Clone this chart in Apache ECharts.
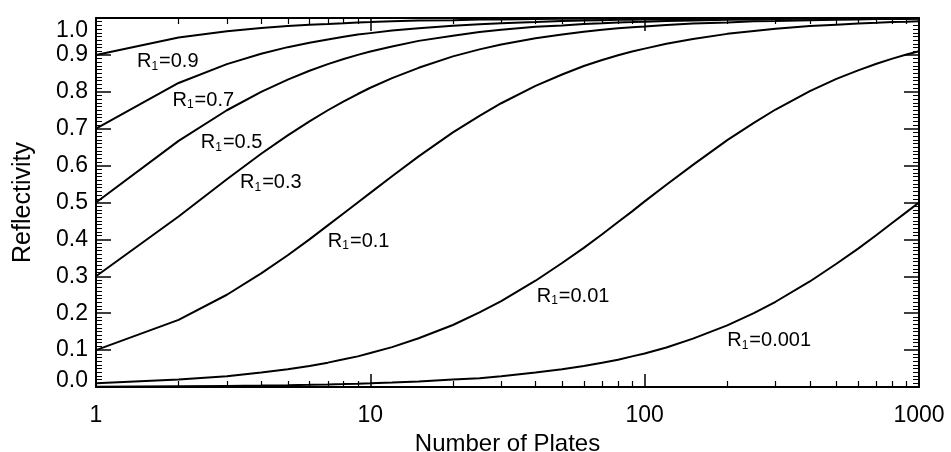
<!DOCTYPE html>
<html>
<head>
<meta charset="utf-8">
<script src="https://cdn.jsdelivr.net/npm/echarts@6/dist/echarts.min.js"></script>
<style>
html,body{margin:0;padding:0;background:#fff;}
#chart{width:951px;height:452px;}
</style>
</head>
<body>
<div id="chart"></div>
<script>
// Number of plates (x samples)
const plates = [1,2,3,4,5,6,7,8,9,10,12,15,20,25,30,40,50,60,70,80,90,100,120,150,200,250,300,400,500,600,700,800,900,1000];
// Reflectivity
const r090 = [0.900,0.947,0.964,0.973,0.978,0.982,0.984,0.986,0.988,0.989,0.991,0.993,0.994,0.996,0.996,0.997,0.998,0.998,0.998,0.999,0.999,0.999,0.999,0.999,1.000,1.000,1.000,1.000,1.000,1.000,1.000,1.000,1.000,1.000];
const r070 = [0.700,0.824,0.875,0.903,0.921,0.933,0.942,0.949,0.955,0.959,0.966,0.972,0.979,0.983,0.986,0.989,0.992,0.993,0.994,0.995,0.995,0.996,0.996,0.997,0.998,0.998,0.999,0.999,0.999,0.999,1.000,1.000,1.000,1.000];
const r050 = [0.500,0.667,0.750,0.800,0.833,0.857,0.875,0.889,0.900,0.909,0.923,0.938,0.952,0.962,0.968,0.976,0.980,0.984,0.986,0.988,0.989,0.990,0.992,0.993,0.995,0.996,0.997,0.998,0.998,0.998,0.999,0.999,0.999,0.999];
const r030 = [0.300,0.462,0.563,0.632,0.682,0.720,0.750,0.774,0.794,0.811,0.837,0.865,0.896,0.915,0.928,0.945,0.955,0.963,0.968,0.972,0.975,0.977,0.981,0.985,0.988,0.991,0.992,0.994,0.995,0.996,0.997,0.997,0.997,0.998];
const r010 = [0.100,0.182,0.250,0.308,0.357,0.400,0.438,0.471,0.500,0.526,0.571,0.625,0.690,0.735,0.769,0.816,0.847,0.870,0.886,0.899,0.909,0.917,0.930,0.943,0.957,0.965,0.971,0.978,0.982,0.985,0.987,0.989,0.990,0.991];
const r001 = [0.010,0.020,0.029,0.039,0.048,0.057,0.066,0.075,0.083,0.092,0.108,0.132,0.168,0.202,0.233,0.288,0.336,0.377,0.414,0.447,0.476,0.503,0.548,0.602,0.669,0.716,0.752,0.802,0.835,0.858,0.876,0.890,0.901,0.910];
const r0001 = [0.001,0.002,0.003,0.004,0.005,0.006,0.007,0.008,0.009,0.010,0.012,0.015,0.020,0.024,0.029,0.039,0.048,0.057,0.066,0.074,0.083,0.091,0.107,0.131,0.167,0.200,0.231,0.286,0.334,0.375,0.412,0.445,0.474,0.500];
const curves = [r090, r070, r050, r030, r010, r001, r0001];

// Curve annotations
const labelText = ['0.9','0.7','0.5','0.3','0.1','0.01','0.001'];
const labelN    = [1.41, 1.90, 2.41, 3.35, 7.0, 40.4, 200];
const labelR    = [0.884, 0.780, 0.665, 0.556, 0.398, 0.249, 0.129];

// Axis ticks
const xMajorTicks = [1, 10, 100, 1000];
const xMinorTicks = [2,3,4,5,6,7,8,9,20,30,40,50,60,70,80,90,200,300,400,500,600,700,800,900];
const yTickLabels = ['0.0','0.1','0.2','0.3','0.4','0.5','0.6','0.7','0.8','0.9','1.0'];

const FONT = 'Liberation Sans, Arial, Helvetica, sans-serif';
const black = '#000';
const TXT = '#000';
const lineAxis = {show:true, onZero:false, lineStyle:{color:black, width:2}};

const xBase = {type:'log', logBase:10, min:1, max:1000, gridIndex:0, splitLine:{show:false}, minorSplitLine:{show:false}};

const chart = echarts.init(document.getElementById('chart'), null, {renderer:'canvas'});
chart.setOption({
  animation:false,
  backgroundColor:'#fff',
  grid:{left:96, right:32, top:18, bottom:65, containLabel:false, outerBoundsMode:'none'},
  xAxis:[
    Object.assign({}, xBase, {
      position:'bottom', axisLine:lineAxis,
      axisTick:{show:true, inside:true, length:13, customValues:xMajorTicks, lineStyle:{color:black, width:1.5}},
      axisLabel:{show:true, customValues:xMajorTicks, hideOverlap:false, fontSize:23, fontFamily:FONT, color:TXT, margin:17, formatter:v=>String(Math.round(v))},
      name:'Number of Plates', nameLocation:'middle', nameGap:38,
      nameTextStyle:{fontSize:24, fontFamily:FONT, color:TXT}
    }),
    Object.assign({}, xBase, {
      position:'top', axisLine:lineAxis,
      axisTick:{show:true, inside:true, length:13, customValues:xMajorTicks, lineStyle:{color:black, width:1.5}},
      axisLabel:{show:false}
    }),
    Object.assign({}, xBase, {
      position:'bottom', axisLine:{show:false, onZero:false},
      axisTick:{show:true, inside:true, length:6, customValues:xMinorTicks, lineStyle:{color:black, width:1.2}},
      axisLabel:{show:false}
    }),
    Object.assign({}, xBase, {
      position:'top', axisLine:{show:false, onZero:false},
      axisTick:{show:true, inside:true, length:6, customValues:xMinorTicks, lineStyle:{color:black, width:1.2}},
      axisLabel:{show:false}
    })
  ],
  yAxis:[
    {
      type:'value', min:0, max:1, interval:0.1, position:'left', axisLine:lineAxis,
      axisTick:{show:true, inside:true, length:15, lineStyle:{color:black, width:1.5}},
      minorTick:{show:true, splitNumber:10, length:6, lineStyle:{color:black, width:1}},
      splitLine:{show:false}, minorSplitLine:{show:false},
      axisLabel:{
        show:true, margin:8, fontSize:23, fontFamily:FONT, color:TXT, hideOverlap:false,
        showMinLabel:true, showMaxLabel:true,
        formatter:function(v){
          const i = Math.round(v*10);
          const t = yTickLabels[i];
          if (i === 10) return '{t|' + t + '}';
          if (i === 0) return '{b|' + t + '}';
          return t;
        },
        rich:{
          t:{fontSize:23, fontFamily:FONT, color:TXT, padding:[26,0,0,0]},
          b:{fontSize:23, fontFamily:FONT, color:TXT, padding:[0,0,12,0]}
        }
      },
      name:'Reflectivity', nameLocation:'middle', nameGap:60,
      nameTextStyle:{fontSize:25, fontFamily:FONT, color:TXT}
    },
    {
      type:'value', min:0, max:1, interval:0.1, position:'right', axisLine:lineAxis,
      axisTick:{show:true, inside:true, length:15, lineStyle:{color:black, width:1.5}},
      minorTick:{show:true, splitNumber:10, length:6, lineStyle:{color:black, width:1}},
      splitLine:{show:false}, minorSplitLine:{show:false},
      axisLabel:{show:false}
    }
  ],
  series: curves.map(function(vals){
    return {
      type:'line', xAxisIndex:0, yAxisIndex:0, symbol:'none', showSymbol:false,
      lineStyle:{color:black, width:2}, clip:true, silent:true,
      data: plates.map(function(n,i){ return [n, vals[i]]; })
    };
  }).concat([{
    type:'scatter', xAxisIndex:0, yAxisIndex:0, symbolSize:0, silent:true,
    itemStyle:{opacity:1},
    data: labelN.map(function(n,i){ return [n, labelR[i]]; }),
    label:{
      show:true, position:'right', distance:0, offset:[0,2], color:TXT, opacity:1,
      formatter:function(p){ return '{r|R}{s|1}{r|=' + labelText[p.dataIndex] + '}'; },
      rich:{
        r:{fontSize:20, fontFamily:FONT, color:TXT, lineHeight:22, verticalAlign:'top'},
        s:{fontSize:12, fontFamily:FONT, color:TXT, lineHeight:12, verticalAlign:'top', padding:[9,1,0,0]}
      }
    }
  }])
});
</script>
</body>
</html>
